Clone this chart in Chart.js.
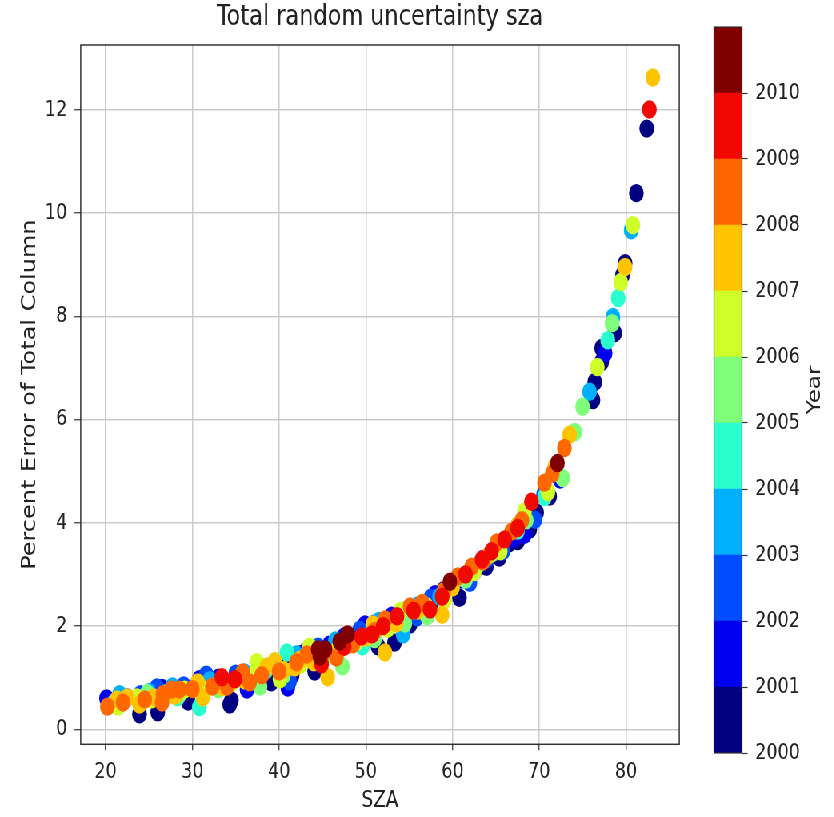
<!DOCTYPE html>
<html>
<head>
<meta charset="utf-8">
<script src="https://cdn.jsdelivr.net/npm/chart.js@4/dist/chart.umd.min.js"></script>
<style>
  html, body { margin: 0; padding: 0; background: #fff; overflow: hidden; }
  #wrap { position: absolute; left: 0; top: 0; width: 1043px; height: 817px;
          transform: scaleX(0.8); transform-origin: 0 0; }
  #mainBox { position: absolute; left: 0; top: 0; width: 880px; height: 817px; }
  #cbarBox { position: absolute; left: 880px; top: 0; width: 163px; height: 817px; }
</style>
</head>
<body>
<div id="wrap">
  <div id="mainBox"><canvas id="main"></canvas></div>
  <div id="cbarBox"><canvas id="cbar"></canvas></div>
</div>
<script>
// Observation years and their jet colours (one discrete level per year)
const years = [2000, 2001, 2002, 2003, 2004, 2005, 2006, 2007, 2008, 2009, 2010];
const yearColors = ['#000080', '#0000f1', '#004cff', '#00b0ff', '#29ffce', '#7dff7a',
                    '#ceff29', '#ffc400', '#ff6800', '#f10800', '#800000'];

// [solar zenith angle (deg), percent error of total column]
const yr2000 = [[23.9,0.29],[26.0,0.33],[27.5,0.72],[29.5,0.54],[31.0,0.85],[34.3,0.48],[34.5,0.56],
                [36.5,1.02],[39.1,0.91],[40.5,1.25],[41.5,1.05],[42.4,1.45],[44.1,1.12],[46.0,1.60],
                [48.0,1.75],[51.4,1.61],[52.0,2.05],[53.3,1.68],[55.1,2.03],[56.5,2.35],[57.5,2.45],
                [59.0,2.70],[60.8,2.55],[62.5,3.05],[63.9,3.15],[65.4,3.33],[66.5,3.60],[67.5,3.65],
                [68.9,3.87],[69.7,4.20],[71.2,4.51],[76.2,6.38],[76.4,6.73],[77.2,7.12],[77.2,7.39],
                [78.7,7.68],[79.6,8.80],[79.9,9.03],[81.2,10.39],[82.4,11.64]];
const yr2001 = [[20.1,0.60],[22.5,0.62],[26.5,0.80],[30.8,0.97],[33.0,1.00],[36.3,0.77],[38.0,1.20],
                [41.0,0.81],[43.0,1.50],[45.8,1.64],[47.5,1.80],[49.9,2.03],[53.0,2.20],[58.0,2.62],
                [61.0,2.90],[63.5,3.30],[65.0,3.50],[67.0,3.70],[68.3,3.77],[72.4,4.84],[77.6,7.29]];
const yr2002 = [[24.0,0.68],[25.9,0.81],[29.0,0.85],[31.6,1.06],[35.0,1.08],[39.5,1.28],[41.2,0.93],
                [44.5,1.60],[49.3,1.93],[51.0,2.05],[54.5,2.30],[55.9,2.17],[57.5,2.55],[60.0,2.80],
                [62.0,2.84],[64.0,3.30],[65.8,3.45],[69.5,4.06],[70.5,4.55]];
const yr2003 = [[21.6,0.68],[25.0,0.72],[27.7,0.83],[32.0,0.95],[36.0,1.10],[42.0,1.45],[46.5,1.72],
                [51.5,2.10],[54.3,1.84],[56.0,2.40],[58.5,2.57],[61.5,3.00],[65.5,3.55],[67.5,3.95],
                [75.8,6.54],[78.5,7.99],[80.6,9.67]];
const yr2004 = [[22.0,0.55],[28.3,0.62],[30.8,0.43],[33.5,0.90],[38.5,1.15],[40.9,1.49],[44.0,1.50],
                [49.6,1.61],[52.5,2.10],[55.5,2.30],[59.5,2.75],[61.0,2.95],[63.0,3.20],[67.5,3.85],
                [70.6,4.50],[77.9,7.54],[79.1,8.36]];
const yr2005 = [[21.0,0.52],[24.8,0.70],[28.5,0.68],[33.0,0.78],[37.4,0.91],[37.8,0.83],[40.5,1.05],
                [45.0,1.35],[47.3,1.22],[51.0,1.75],[54.5,2.05],[57.1,2.19],[61.5,2.90],[64.5,3.40],
                [68.5,4.05],[72.7,4.87],[74.1,5.76],[75.0,6.25],[78.4,7.87]];
const yr2006 = [[21.4,0.44],[23.6,0.62],[25.3,0.58],[27.0,0.70],[29.1,0.77],[31.4,0.77],[34.5,0.90],
                [37.4,1.16],[37.4,1.30],[40.1,0.97],[42.5,1.25],[43.5,1.60],[46.5,1.50],[49.0,1.70],
                [52.5,1.95],[54.0,2.30],[57.0,2.38],[59.1,2.51],[62.5,3.05],[65.5,3.45],[68.3,4.22],
                [71.0,4.60],[76.7,7.02],[79.4,8.67],[80.8,9.77]];
const yr2007 = [[21.3,0.58],[22.5,0.62],[23.9,0.48],[25.5,0.62],[28.0,0.65],[30.6,0.91],[31.2,0.62],
                [33.5,0.82],[36.0,0.95],[38.6,1.22],[39.5,1.32],[40.5,1.15],[41.8,1.20],[42.4,1.35],
                [44.0,1.30],[45.6,1.01],[47.0,1.55],[48.4,1.68],[50.0,1.78],[50.8,2.03],[52.2,1.49],
                [53.5,2.05],[56.0,2.30],[58.8,2.22],[60.0,2.75],[64.0,3.35],[67.5,3.95],[71.8,5.09],
                [73.5,5.71],[79.9,8.96],[83.1,12.63]];
const yr2008 = [[20.2,0.44],[22.0,0.52],[24.5,0.58],[26.5,0.52],[26.6,0.68],[27.6,0.77],[28.5,0.77],
                [30.0,0.78],[32.3,0.83],[34.0,0.83],[35.8,1.10],[36.6,0.91],[38.0,1.05],[40.0,1.12],
                [42.0,1.30],[43.2,1.45],[45.0,1.45],[46.6,1.39],[48.5,1.65],[51.0,1.90],[52.2,2.13],
                [55.1,2.38],[56.5,2.45],[59.0,2.68],[60.6,2.96],[62.2,3.15],[63.5,3.25],[65.1,3.62],
                [66.8,3.83],[68.0,4.05],[70.6,4.78],[71.5,4.95],[72.9,5.45]];
const yr2009 = [[33.4,1.01],[34.9,0.97],[44.9,1.26],[47.5,1.60],[49.5,1.80],[50.7,1.84],[52.0,2.00],
                [53.6,2.19],[55.5,2.30],[57.4,2.32],[58.8,2.57],[61.5,3.00],[63.4,3.29],[64.5,3.45],
                [66.0,3.68],[67.5,3.90],[69.1,4.41],[82.7,12.01]];
const yr2010 = [[44.5,1.55],[44.7,1.41],[45.3,1.55],[47.0,1.70],[47.9,1.84],[59.7,2.86],[72.1,5.16]];

const seriesByYear = [yr2000, yr2001, yr2002, yr2003, yr2004, yr2005, yr2006, yr2007, yr2008, yr2009, yr2010];

// Axis ticks
const xTicks = [20, 30, 40, 50, 60, 70, 80];
const yTicks = [0, 2, 4, 6, 8, 10, 12];
const cbarTicks = [2000, 2001, 2002, 2003, 2004, 2005, 2006, 2007, 2008, 2009, 2010];

const chartTitle = 'Total random uncertainty sza';
const xTitle = 'SZA';
const yTitle = 'Percent Error of Total Column';
const cbarTitle = 'Year';

const FONT = 'DejaVu Sans';
const TEXT = '#222';

// Box around a plotting area, drawn over the marks
const frame = (color, width) => ({
  id: 'frame',
  afterDraw(chart) {
    const a = chart.chartArea, ctx = chart.ctx;
    ctx.save();
    ctx.strokeStyle = color;
    ctx.lineWidth = width;
    ctx.strokeRect(a.left, a.top, a.right - a.left, a.bottom - a.top);
    ctx.restore();
  }
});

new Chart(document.getElementById('main'), {
  type: 'scatter',
  data: {
    datasets: years.map((yr, i) => ({
      label: String(yr),
      data: seriesByYear[i].map(([x, y]) => ({ x, y })),
      backgroundColor: yearColors[i],
      borderWidth: 0,
      pointRadius: 9.2,
      pointHoverRadius: 9.2,
      order: years.length - i
    }))
  },
  options: {
    responsive: true,
    maintainAspectRatio: false,
    animation: false,
    events: [],
    layout: { padding: { left: 0, right: 30.9, top: 0, bottom: 0 } },
    plugins: {
      legend: { display: false },
      tooltip: { enabled: false },
      title: {
        display: true,
        text: chartTitle,
        fullSize: false,
        color: TEXT,
        font: { family: FONT, size: 28, weight: 'normal', lineHeight: 1.2 },
        padding: { top: 1, bottom: 10.4 }
      }
    },
    scales: {
      x: {
        type: 'linear',
        position: 'bottom',
        min: 17.12,
        max: 86.15,
        afterBuildTicks: s => { s.ticks = xTicks.map(v => ({ value: v })); },
        afterFit: s => { s.height = 72.7; },
        ticks: { color: TEXT, font: { family: FONT, size: 22 }, padding: 9, maxRotation: 0 },
        grid: { color: '#cbcbcb', lineWidth: 1.5, tickLength: 6, tickColor: '#333', tickWidth: 1.2 },
        border: { display: false },
        title: { display: true, text: xTitle, color: TEXT,
                 font: { family: FONT, size: 23, lineHeight: 1.2 }, padding: { top: 0, bottom: 2 } }
      },
      y: {
        type: 'linear',
        position: 'left',
        min: -0.29,
        max: 13.26,
        afterBuildTicks: s => { s.ticks = yTicks.map(v => ({ value: v })); },
        afterFit: s => { s.width = 100.9; },
        ticks: { color: TEXT, font: { family: FONT, size: 22 }, padding: 9 },
        grid: { color: '#cbcbcb', lineWidth: 1.5, tickLength: 8, tickColor: '#333', tickWidth: 1.2 },
        border: { display: false },
        title: { display: true, text: yTitle, color: TEXT,
                 font: { family: FONT, size: 24, lineHeight: 1.2 }, padding: { top: 23, bottom: 0 } }
      }
    }
  },
  plugins: [frame('#333', 1.5)]
});

// Colour bar: one floating bar per year level
const cbarLabel = {
  id: 'cbarLabel',
  afterDraw(chart) {
    const ctx = chart.ctx;
    const a = chart.chartArea;
    ctx.save();
    ctx.translate(139, (a.top + a.bottom) / 2);
    ctx.rotate(-Math.PI / 2);
    ctx.fillStyle = TEXT;
    ctx.font = '23px "' + FONT + '"';
    ctx.textAlign = 'center';
    ctx.textBaseline = 'middle';
    ctx.fillText(cbarTitle, 0, 0);
    ctx.restore();
  }
};

new Chart(document.getElementById('cbar'), {
  type: 'bar',
  data: {
    labels: [''],
    datasets: years.map((yr, i) => ({
      label: String(yr),
      data: [[yr, yr + 1]],
      backgroundColor: yearColors[i],
      borderWidth: 0,
      barPercentage: 1,
      categoryPercentage: 1,
      grouped: false
    }))
  },
  options: {
    responsive: true,
    maintainAspectRatio: false,
    animation: false,
    events: [],
    layout: { padding: { left: 12.5, right: 0, top: 27, bottom: 64 } },
    plugins: { legend: { display: false }, tooltip: { enabled: false }, title: { display: false } },
    scales: {
      x: { display: false },
      y: {
        position: 'right',
        min: 2000,
        max: 2011,
        afterBuildTicks: s => { s.ticks = cbarTicks.map(v => ({ value: v })); },
        afterFit: s => { s.width = 115.5; },
        ticks: { color: TEXT, font: { family: FONT, size: 22 }, padding: 9.5,
                 callback: v => String(v) },
        grid: { drawOnChartArea: false, tickLength: 7, tickColor: '#333', tickWidth: 1.2 },
        border: { display: false }
      }
    }
  },
  plugins: [frame('#333', 1.2), cbarLabel]
});
</script>
</body>
</html>
